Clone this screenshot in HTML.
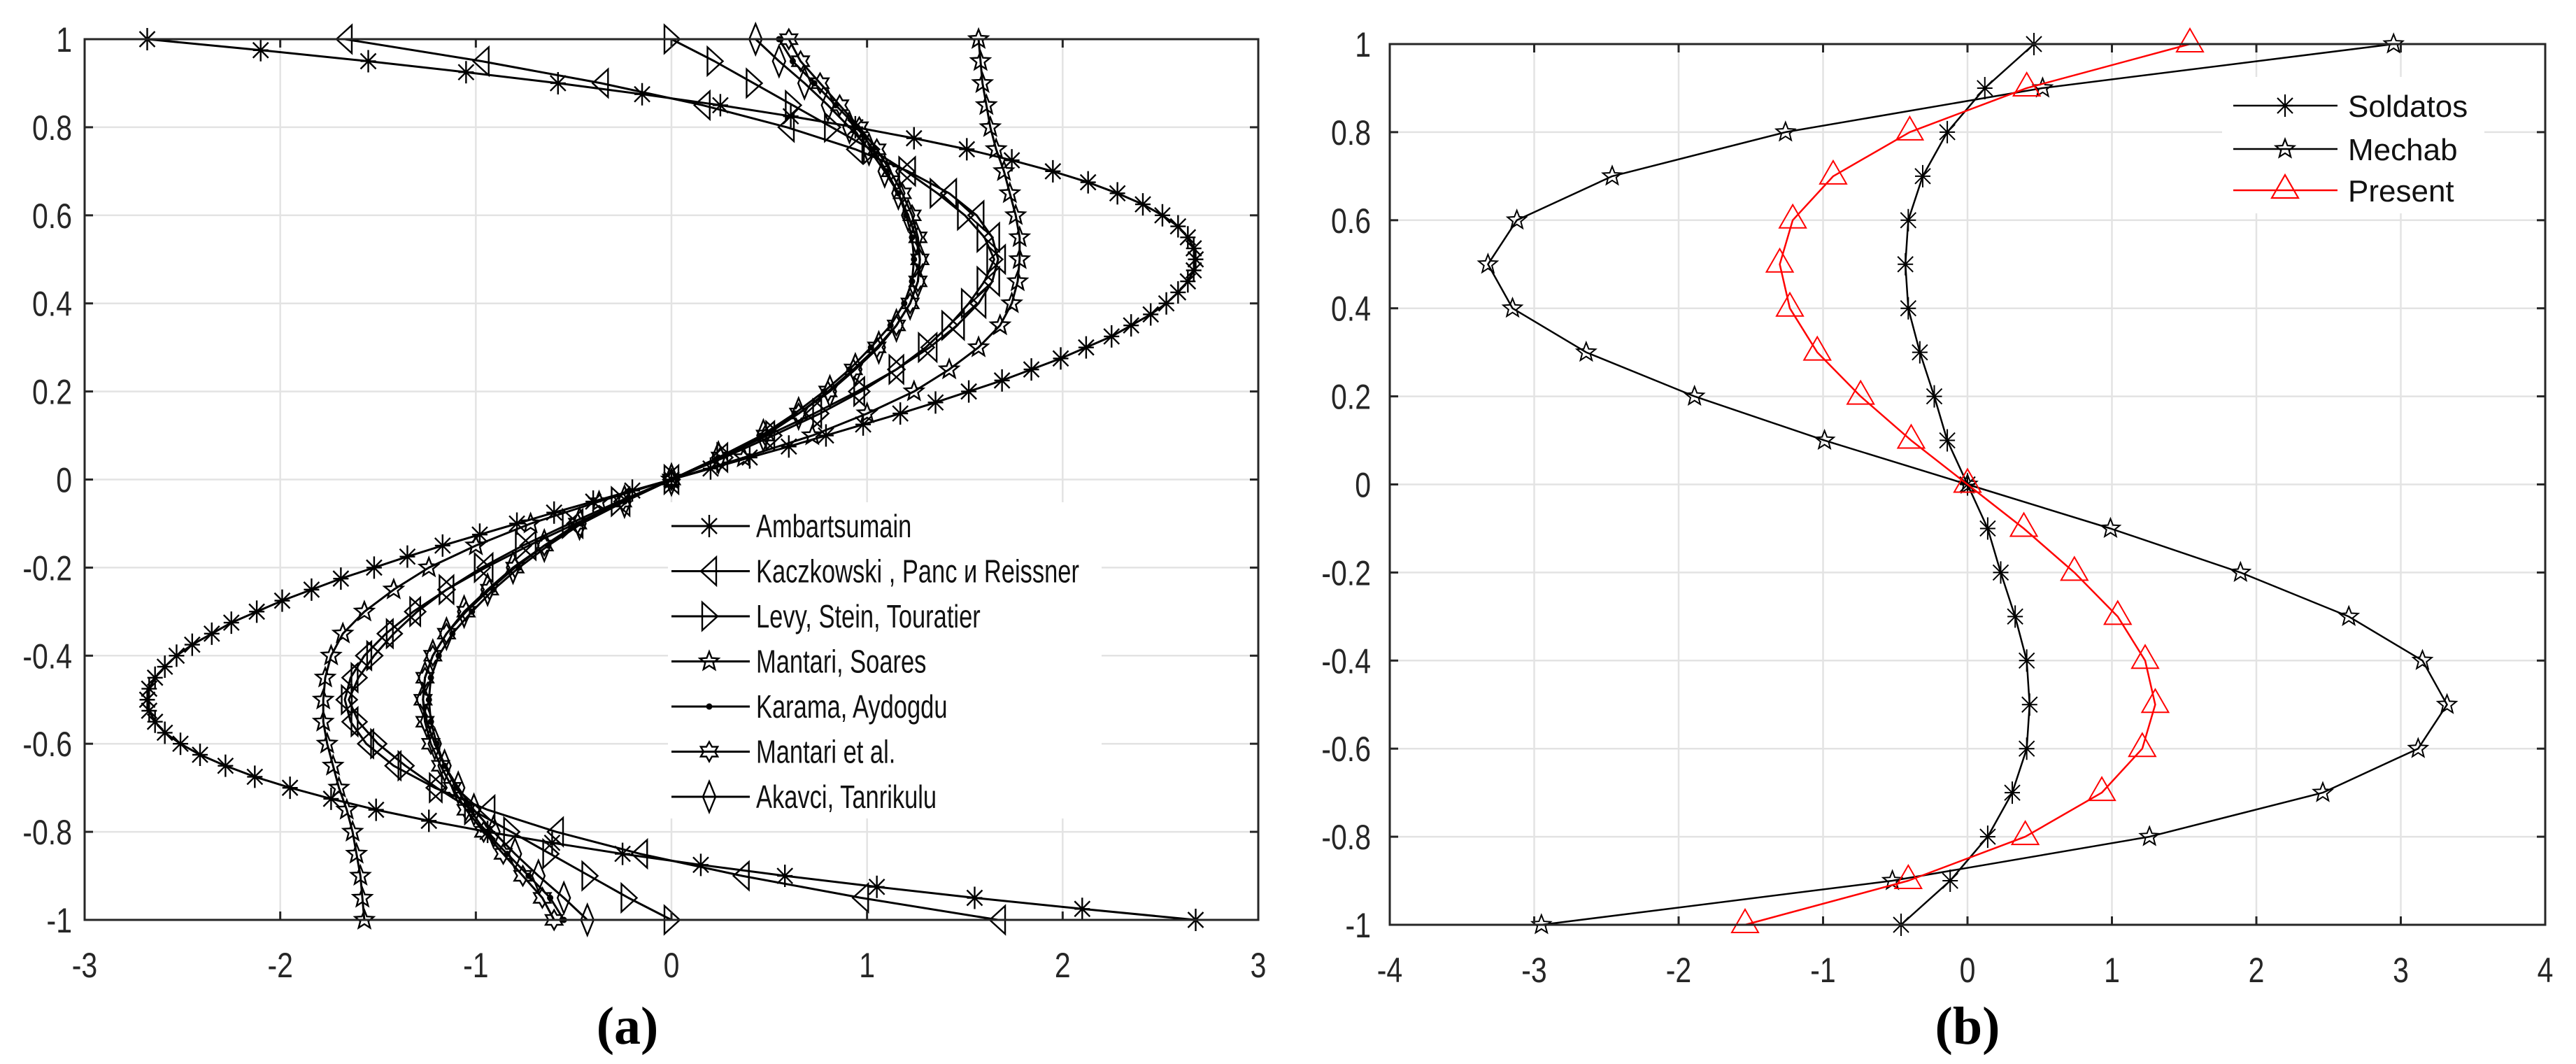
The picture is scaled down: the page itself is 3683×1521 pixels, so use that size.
<!DOCTYPE html>
<html>
<head>
<meta charset="utf-8">
<style>
  html,body{margin:0;padding:0;background:#fff;}
  svg{display:block;}
  text{font-family:"Liberation Sans",Arial,sans-serif;fill:#262626;}
</style>
</head>
<body>
<svg id="fig" width="3683" height="1521" viewBox="0 0 3683 1521" xmlns="http://www.w3.org/2000/svg">
  <rect x="0" y="0" width="3683" height="1521" fill="#fff"/>
  <g id="plotA"></g>
  <g id="plotB"></g>
  <text x="897" y="1492" text-anchor="middle" style="font-family:'Liberation Serif',serif;font-weight:bold;font-size:76px;fill:#000">(a)</text>
  <text x="2813" y="1492" text-anchor="middle" style="font-family:'Liberation Serif',serif;font-weight:bold;font-size:76px;fill:#000">(b)</text>
</svg>
<script>
// ---------- Chart (a) data ----------
const zFine = [1,0.975,0.95,0.925,0.9,0.875,0.85,0.825,0.8,0.775,0.75,0.725,0.7,0.675,0.65,0.625,0.6,0.575,0.55,0.525,0.5,0.475,0.45,0.425,0.4,0.375,0.35,0.325,0.3,0.275,0.25,0.225,0.2,0.175,0.15,0.125,0.1,0.075,0.05,0.025,0,
  -0.025,-0.05,-0.075,-0.1,-0.125,-0.15,-0.175,-0.2,-0.225,-0.25,-0.275,-0.3,-0.325,-0.35,-0.375,-0.4,-0.425,-0.45,-0.475,-0.5,-0.525,-0.55,-0.575,-0.6,-0.625,-0.65,-0.675,-0.7,-0.725,-0.75,-0.775,-0.8,-0.825,-0.85,-0.875,-0.9,-0.925,-0.95,-0.975,-1];
const ambartsumian = [-2.68,-2.10,-1.55,-1.05,-0.58,-0.15,0.25,0.61,0.94,1.24,1.51,1.74,1.95,2.13,2.28,2.41,2.51,2.59,2.64,2.67,2.68,2.67,2.64,2.59,2.53,2.45,2.35,2.25,2.12,1.99,1.84,1.69,1.52,1.35,1.17,0.98,0.79,0.60,0.40,0.20,0,
  -0.20,-0.40,-0.60,-0.79,-0.98,-1.17,-1.35,-1.52,-1.69,-1.84,-1.99,-2.12,-2.25,-2.35,-2.45,-2.53,-2.59,-2.64,-2.67,-2.68,-2.67,-2.64,-2.59,-2.51,-2.41,-2.28,-2.13,-1.95,-1.74,-1.51,-1.24,-0.94,-0.61,-0.25,0.15,0.58,1.05,1.55,2.10,2.68];
const zA = [1,0.95,0.9,0.85,0.8,0.75,0.7,0.65,0.6,0.55,0.5,0.45,0.4,0.35,0.3,0.25,0.2,0.15,0.1,0.05,0,
  -0.05,-0.1,-0.15,-0.2,-0.25,-0.3,-0.35,-0.4,-0.45,-0.5,-0.55,-0.6,-0.65,-0.7,-0.75,-0.8,-0.85,-0.9,-0.95,-1];
const kaczkowski = [-1.67,-0.97,-0.36,0.16,0.59,0.94,1.21,1.42,1.56,1.64,1.67,1.64,1.57,1.46,1.32,1.15,0.95,0.73,0.49,0.25,0,
  -0.25,-0.49,-0.73,-0.95,-1.15,-1.32,-1.46,-1.57,-1.64,-1.67,-1.64,-1.56,-1.42,-1.21,-0.94,-0.59,-0.16,0.36,0.97,1.67];
const levy = [0,0.22,0.42,0.62,0.82,1.02,1.20,1.36,1.50,1.60,1.65,1.60,1.52,1.42,1.30,1.15,0.97,0.76,0.52,0.27,0,
  -0.27,-0.52,-0.76,-0.97,-1.15,-1.30,-1.42,-1.52,-1.60,-1.65,-1.60,-1.50,-1.36,-1.20,-1.02,-0.82,-0.62,-0.42,-0.22,0];
const mantariSoares = [1.57,1.58,1.59,1.61,1.63,1.66,1.70,1.73,1.76,1.78,1.78,1.77,1.74,1.68,1.57,1.42,1.24,1.00,0.72,0.37,0,
  -0.37,-0.72,-1.00,-1.24,-1.42,-1.57,-1.68,-1.74,-1.77,-1.78,-1.78,-1.76,-1.73,-1.70,-1.66,-1.63,-1.61,-1.59,-1.58,-1.57];
const karama = [0.55,0.62,0.73,0.84,0.95,1.03,1.10,1.16,1.20,1.23,1.24,1.23,1.19,1.12,1.02,0.91,0.78,0.63,0.46,0.24,0,
  -0.24,-0.46,-0.63,-0.78,-0.91,-1.02,-1.12,-1.19,-1.23,-1.24,-1.23,-1.20,-1.16,-1.10,-1.03,-0.95,-0.84,-0.73,-0.62,-0.55];
const mantariEtAl = [0.60,0.66,0.76,0.86,0.96,1.05,1.12,1.18,1.23,1.26,1.27,1.26,1.22,1.15,1.05,0.93,0.80,0.65,0.48,0.25,0,
  -0.25,-0.48,-0.65,-0.80,-0.93,-1.05,-1.15,-1.22,-1.26,-1.27,-1.26,-1.23,-1.18,-1.12,-1.05,-0.96,-0.86,-0.76,-0.66,-0.60];
const akavci = [0.43,0.55,0.68,0.80,0.91,1.01,1.09,1.16,1.21,1.25,1.27,1.26,1.22,1.15,1.06,0.94,0.81,0.65,0.47,0.24,0,
  -0.24,-0.47,-0.65,-0.81,-0.94,-1.06,-1.15,-1.22,-1.26,-1.27,-1.25,-1.21,-1.16,-1.09,-1.01,-0.91,-0.80,-0.68,-0.55,-0.43];
const xTicksA = [-3,-2,-1,0,1,2,3];
const yTicks = [1,0.8,0.6,0.4,0.2,0,-0.2,-0.4,-0.6,-0.8,-1];
const yTickLabels = ["1","0.8","0.6","0.4","0.2","0","-0.2","-0.4","-0.6","-0.8","-1"];
const legendA = ["Ambartsumain","Kaczkowski , Panc  и Reissner","Levy, Stein, Touratier","Mantari, Soares","Karama, Aydogdu","Mantari et al.","Akavci, Tanrikulu"];

// ---------- Chart (b) data ----------
const zB = [1,0.9,0.8,0.7,0.6,0.5,0.4,0.3,0.2,0.1,0,-0.1,-0.2,-0.3,-0.4,-0.5,-0.6,-0.7,-0.8,-0.9,-1];
const soldatos = [0.46,0.12,-0.14,-0.31,-0.41,-0.43,-0.41,-0.33,-0.23,-0.14,0,0.14,0.23,0.33,0.41,0.43,0.41,0.31,0.14,-0.12,-0.46];
const mechab = [2.95,0.52,-1.26,-2.46,-3.12,-3.32,-3.15,-2.64,-1.89,-0.99,0,0.99,1.89,2.64,3.15,3.32,3.12,2.46,1.26,-0.52,-2.95];
const present = [1.54,0.41,-0.40,-0.93,-1.21,-1.30,-1.23,-1.04,-0.74,-0.39,0,0.39,0.74,1.04,1.23,1.30,1.21,0.93,0.40,-0.41,-1.54];
const xTicksB = [-4,-3,-2,-1,0,1,2,3,4];
const legendB = ["Soldatos","Mechab","Present"];

const NS = "http://www.w3.org/2000/svg";
function mk(tag, attrs, parent){ const e=document.createElementNS(NS,tag); for(const k in attrs) e.setAttribute(k,attrs[k]); if(parent) parent.appendChild(e); return e; }

const A = {x0:121, x1:1799, y0:56, y1:1315, xmin:-3, xmax:3};
const B = {x0:1987, x1:3639, y0:63, y1:1322, xmin:-4, xmax:4};
function sx(P,v){ return P.x0 + (v-P.xmin)/(P.xmax-P.xmin)*(P.x1-P.x0); }
function sy(P,z){ return P.y0 + (1-z)/2*(P.y1-P.y0); }

function marker(g, type, x, y, color, sw){
  let d="";
  if(type==="*"){ const r=16, q=11;
    d=`M${x},${y-r}L${x},${y+r}M${x-q},${y-q}L${x+q},${y+q}M${x-q},${y+q}L${x+q},${y-q}M${x-q},${y}L${x+q},${y}`;
  } else if(type==="<"){ d=`M${x-12},${y}L${x+10},${y-20}L${x+10},${y+20}Z`; }
  else if(type===">"){ d=`M${x+12},${y}L${x-10},${y-20}L${x-10},${y+20}Z`; }
  else if(type==="^"){ d=`M${x},${y-22}L${x+19},${y+11}L${x-19},${y+11}Z`; }
  else if(type==="d"){ d=`M${x},${y-22}L${x+9},${y}L${x},${y+22}L${x-9},${y}Z`; }
  else if(type==="p"||type==="h"){ const n=type==="p"?5:6, R=14, r=type==="p"?6:8; let pts=[];
    for(let i=0;i<2*n;i++){ const a=-Math.PI/2+i*Math.PI/n; const rr=i%2?r:R; pts.push((x+rr*Math.cos(a)).toFixed(1)+","+(y+rr*Math.sin(a)).toFixed(1)); }
    d="M"+pts.join("L")+"Z"; }
  if(type==="."){ const c=mk("circle",{cx:x,cy:y,r:4.5,fill:color},g);
    
    
    return; }
  const p=mk("path",{d:d,fill:"none",stroke:color,"stroke-width":sw},g);
  
  
}

function axes(gid, P, xTicks){
  const g=document.getElementById(gid);
  xTicks.forEach(v=>{ const X=sx(P,v);
    const l=mk("line",{x1:X,x2:X,y1:P.y0,y2:P.y1,stroke:"#e3e3e3","stroke-width":2.5},g);
    
     });
  yTicks.forEach(v=>{ const Y=sy(P,v);
    const l=mk("line",{x1:P.x0,x2:P.x1,y1:Y,y2:Y,stroke:"#e3e3e3","stroke-width":2.5},g);
    
     });
  return g;
}
function frame(g,P,xTicks,labelRight){
  const r=mk("rect",{x:P.x0,y:P.y0,width:P.x1-P.x0,height:P.y1-P.y0,fill:"none",stroke:"#262626","stroke-width":3},g);
  
  
  xTicks.forEach(v=>{ const X=sx(P,v);
    mk("line",{x1:X,x2:X,y1:P.y1,y2:P.y1-12,stroke:"#262626","stroke-width":3},g);
    mk("line",{x1:X,x2:X,y1:P.y0,y2:P.y0+12,stroke:"#262626","stroke-width":3},g);
    const t=mk("text",{x:0,y:0,"text-anchor":"middle","font-size":50,transform:`translate(${X},${P.y1+82}) scale(0.82,1)`},g);
    t.textContent = String(v);
    
     });
  yTicks.forEach((v,i)=>{ const Y=sy(P,v);
    mk("line",{x1:P.x0,x2:P.x0+12,y1:Y,y2:Y,stroke:"#262626","stroke-width":3},g);
    mk("line",{x1:P.x1,x2:P.x1-12,y1:Y,y2:Y,stroke:"#262626","stroke-width":3},g);
    const t=mk("text",{x:0,y:0,"text-anchor":"end","font-size":50,transform:`translate(${labelRight},${Y+18}) scale(0.82,1)`},g);
    t.textContent = yTickLabels[i];
    
     });
}
function series(g,P,xs,zs,type,color,sw,name){
  const sg=mk("g",{},g);
  
  
  const pts=xs.map((v,i)=>sx(P,v).toFixed(1)+","+sy(P,zs[i]).toFixed(1)).join(" ");
  const pl=mk("polyline",{points:pts,fill:"none",stroke:color,"stroke-width":sw,"stroke-linejoin":"round"},sg);
  
  
  xs.forEach((v,i)=>marker(sg,type,sx(P,v),sy(P,zs[i]),color,sw*0.8));
}

// ---- Chart A ----
const gA=axes("plotA",A,xTicksA);
series(gA,A,ambartsumian,zFine,"*","#000",3,"series-ambartsumian");
series(gA,A,kaczkowski,zA,"<","#000",3,"series-kaczkowski");
series(gA,A,levy,zA,">","#000",3,"series-levy");
series(gA,A,mantariSoares,zA,"p","#000",3,"series-mantari-soares");
series(gA,A,karama,zA,".","#000",3,"series-karama");
series(gA,A,mantariEtAl,zA,"h","#000",3,"series-mantari-et-al");
series(gA,A,akavci,zA,"d","#000",3,"series-akavci");
frame(gA,A,xTicksA,103);
const lgA=mk("g",{},gA);


mk("rect",{x:955,y:718,width:620,height:452,fill:"#fff"},lgA);
const typesA=["*","<",">","p",".","h","d"];
legendA.forEach((s,i)=>{ const Y=752+i*64.5;
  const e=mk("g",{},lgA);
  
  
  mk("line",{x1:960,x2:1072,y1:Y,y2:Y,stroke:"#000","stroke-width":3},e);
  marker(e,typesA[i],1014,Y,"#000",2.4);
  const t=mk("text",{x:0,y:0,"font-size":46,transform:`translate(1081,${Y+16}) scale(0.75,1)`,style:"fill:#111"},e);
  t.textContent=s;
  
  
});

// ---- Chart B ----
const gB=axes("plotB",B,xTicksB);
series(gB,B,soldatos,zB,"*","#000",2.5,"series-soldatos");
series(gB,B,mechab,zB,"p","#000",2.5,"series-mechab");
series(gB,B,present,zB,"^","#ff0000",2.5,"series-present");
frame(gB,B,xTicksB,1960);
const lgB=mk("g",{},gB);


mk("rect",{x:3177,y:110,width:375,height:195,fill:"#fff"},lgB);
const typesB=["*","p","^"], colB=["#000","#000","#ff0000"];
legendB.forEach((s,i)=>{ const Y=[151,213,272][i];
  const e=mk("g",{},lgB);
  
  
  mk("line",{x1:3193,x2:3342,y1:Y,y2:Y,stroke:colB[i],"stroke-width":2.5},e);
  marker(e,typesB[i],3267,Y,colB[i],2.2);
  const t=mk("text",{x:3357,y:Y+16,"font-size":44,style:"fill:#111"},e);
  t.textContent=s;
  
  
});
</script>
</body>
</html>
